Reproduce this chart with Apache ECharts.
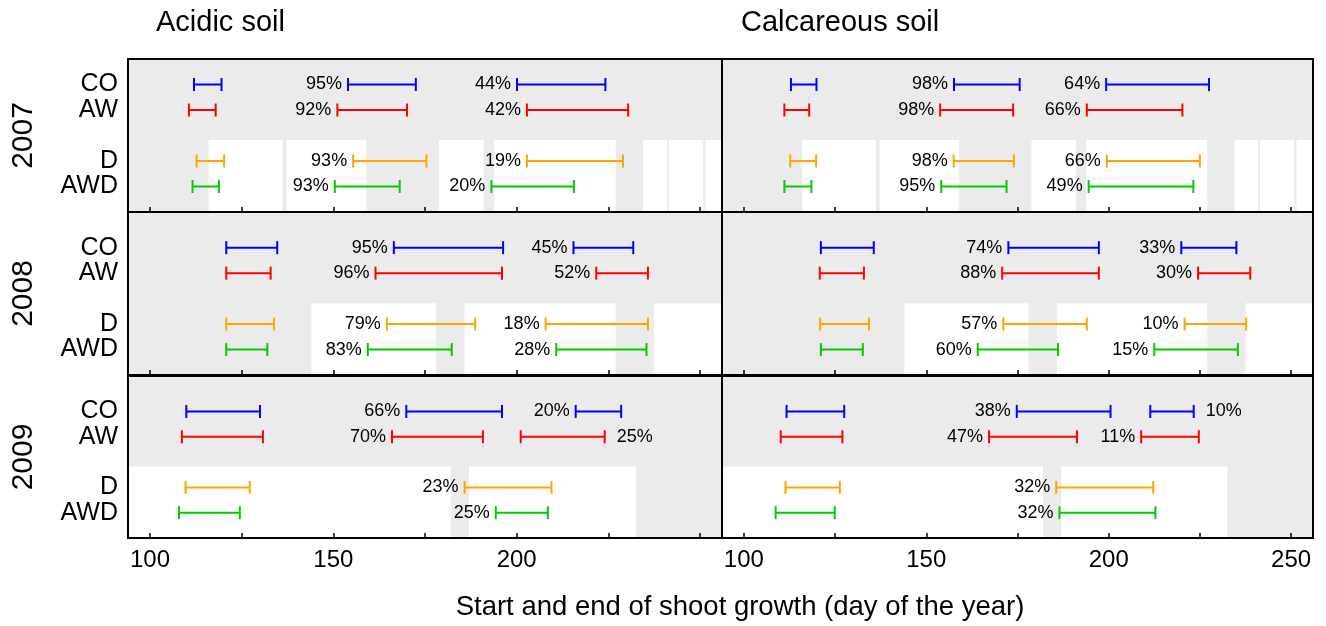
<!DOCTYPE html>
<html>
<head>
<meta charset="utf-8">
<title>Shoot growth periods</title>
<script src="https://cdn.jsdelivr.net/npm/echarts@6/dist/echarts.min.js"></script>
<style>
  html, body { margin: 0; padding: 0; background: #fff; }
  #chart { width: 1326px; height: 626px; }
</style>
</head>
<body>
<div id="chart"></div>
<script>
// rows of each panel, top to bottom
const treatments = ["CO", "AW", "D", "AWD"];
const treatmentRow = [5, 4, 2, 1];
const treatmentColor = ["#0000ff", "#ff0000", "#ffa500", "#00cc00"];
const years = ["2007", "2008", "2009"];
const soils = ["Acidic soil", "Calcareous soil"];
const dayTicks = [100, 125, 150, 175, 200, 225, 250];
const dayLabelsLeft = [100, 150, 200];
const dayLabelsRight = [100, 150, 200, 250];

// growth periods: [treatment, start day, end day, label, label side]
const acidic2007 = [
  ["CO", 112.0, 119.5, ""], ["CO", 154.0, 172.5, "95%"], ["CO", 200.1, 224.2, "44%"],
  ["AW", 110.6, 117.9, ""], ["AW", 151.1, 170.1, "92%"], ["AW", 202.8, 230.4, "42%"],
  ["D", 112.7, 120.2, ""], ["D", 155.4, 175.4, "93%"], ["D", 202.8, 229.0, "19%"],
  ["AWD", 111.6, 118.8, ""], ["AWD", 150.4, 168.1, "93%"], ["AWD", 193.1, 215.6, "20%"],
];
const calcareous2007 = [
  ["CO", 112.9, 119.9, ""], ["CO", 157.6, 175.6, "98%"], ["CO", 199.3, 227.5, "64%"],
  ["AW", 111.1, 117.9, ""], ["AW", 153.8, 173.8, "98%"], ["AW", 194.0, 220.2, "66%"],
  ["D", 112.7, 119.8, ""], ["D", 157.5, 174.0, "98%"], ["D", 199.5, 225.0, "66%"],
  ["AWD", 111.1, 118.5, ""], ["AWD", 154.1, 172.0, "95%"], ["AWD", 194.5, 223.2, "49%"],
];
const acidic2008 = [
  ["CO", 120.8, 134.7, ""], ["CO", 166.5, 196.3, "95%"], ["CO", 215.5, 231.8, "45%"],
  ["AW", 120.8, 132.9, ""], ["AW", 161.5, 196.0, "96%"], ["AW", 221.7, 235.8, "52%"],
  ["D", 120.8, 133.8, ""], ["D", 164.6, 188.7, "79%"], ["D", 207.9, 235.8, "18%"],
  ["AWD", 120.8, 132.0, ""], ["AWD", 159.4, 182.3, "83%"], ["AWD", 210.8, 235.4, "28%"],
];
const calcareous2008 = [
  ["CO", 121.1, 135.6, ""], ["CO", 172.5, 197.3, "74%"], ["CO", 219.9, 235.0, "33%"],
  ["AW", 120.8, 132.9, ""], ["AW", 170.8, 197.3, "88%"], ["AW", 224.5, 238.8, "30%"],
  ["D", 120.9, 134.3, ""], ["D", 171.1, 194.0, "57%"], ["D", 220.8, 237.7, "10%"],
  ["AWD", 121.1, 132.6, ""], ["AWD", 164.1, 186.1, "60%"], ["AWD", 212.5, 235.4, "15%"],
];
const acidic2009 = [
  ["CO", 109.9, 130.0, ""], ["CO", 169.9, 196.0, "66%"], ["CO", 216.1, 228.5, "20%"],
  ["AW", 108.7, 130.8, ""], ["AW", 166.0, 190.8, "70%"], ["AW", 201.1, 224.0, "25%", "right"],
  ["D", 109.7, 127.2, ""], ["D", 185.8, 209.5, "23%"],
  ["AWD", 107.9, 124.5, ""], ["AWD", 194.3, 208.5, "25%"],
];
const calcareous2009 = [
  ["CO", 111.7, 127.5, ""], ["CO", 174.8, 200.5, "38%"], ["CO", 211.4, 223.3, "10%", "right"],
  ["AW", 110.1, 127.0, ""], ["AW", 167.2, 191.3, "47%"], ["AW", 208.9, 224.7, "11%"],
  ["D", 111.4, 126.3, ""], ["D", 185.6, 212.2, "32%"],
  ["AWD", 108.7, 124.9, ""], ["AWD", 186.5, 212.8, "32%"],
];

// white bands behind D / AWD rows: [start day, end day]
const dry2007 = [[116.0, 136.2], [137.2, 159.0], [178.8, 191.0], [193.8, 227.0], [234.5, 241.0], [241.5, 250.8], [251.5, 256]];
const dry2008 = [[144.0, 178.0], [185.8, 227.0], [237.5, 256]];
const dry2009 = [[94, 182.0], [187.0, 232.5]];

(function () {
  const FONT = "'Liberation Sans', Arial, sans-serif";
  const chart = echarts.init(document.getElementById("chart"));

  const panelData = [
    [acidic2007, calcareous2007],
    [acidic2008, calcareous2008],
    [acidic2009, calcareous2009],
  ];
  const dryData = [dry2007, dry2008, dry2009];

  const colLeft = [128, 722];
  const colWidth = [594, 591];
  const rowTop = [59, 212, 376];
  const rowHeight = [153, 163, 162];
  const rowMax = [6, 6.4, 6.4];
  const dryTop = 2.82;

  const grids = [], xAxes = [], yAxes = [], series = [];
  const graphics = [];

  years.forEach(function (year, r) {
    // year label, rotated, centred on the row
    graphics.push({
      type: "text",
      x: 24,
      y: rowTop[r] + rowHeight[r] / 2,
      rotation: Math.PI / 2,
      style: {
        text: year,
        font: "30px " + FONT,
        fill: "#000",
        align: "center",
        verticalAlign: "middle",
        textAlign: "center",
        textVerticalAlign: "middle",
      },
    });

    soils.forEach(function (soil, c) {
      const idx = grids.length;
      const bottomRow = r === years.length - 1;
      grids.push({
        left: colLeft[c],
        top: rowTop[r],
        width: colWidth[c],
        height: rowHeight[r],
        show: true,
        backgroundColor: "#ebebeb",
        borderColor: "#000",
        borderWidth: 2,
        outerBoundsMode: "none",
      });
      xAxes.push({
        gridIndex: idx,
        type: "value",
        min: 94,
        max: 256,
        z: 10,
        axisLine: { show: false },
        splitLine: { show: false },
        axisTick: {
          show: true,
          inside: true,
          length: 5,
          customValues: dayTicks,
          lineStyle: { color: "#000", width: 1.5 },
        },
        axisLabel: {
          show: bottomRow,
          customValues: c === 0 ? dayLabelsLeft : dayLabelsRight,
          color: "#000",
          fontFamily: FONT,
          fontSize: 24,
          margin: 10,
        },
      });
      yAxes.push({
        gridIndex: idx,
        type: "value",
        min: 0,
        max: rowMax[r],
        axisLine: { show: false },
        axisTick: { show: false },
        splitLine: { show: false },
        axisLabel: {
          show: c === 0,
          customValues: treatmentRow,
          formatter: function (v) {
            return treatments[treatmentRow.indexOf(v)] || "";
          },
          color: "#000",
          fontFamily: FONT,
          fontSize: 25,
          margin: 10,
        },
      });

      // white bands
      series.push({
        type: "custom",
        xAxisIndex: idx,
        yAxisIndex: idx,
        silent: true,
        z: 1,
        data: dryData[r],
        renderItem: function (params, api) {
          const cs = params.coordSys;
          const a = api.coord([api.value(0), 0]);
          const b = api.coord([api.value(1), dryTop]);
          const x0 = Math.max(a[0], cs.x + 1);
          const x1 = Math.min(b[0], cs.x + cs.width - 1);
          const y1 = cs.y + cs.height - 1;
          return {
            type: "rect",
            shape: { x: x0, y: b[1], width: x1 - x0, height: y1 - b[1] },
            style: { fill: "#fff" },
          };
        },
      });

      // growth periods with end caps and labels
      const rows = panelData[r][c];
      series.push({
        type: "custom",
        xAxisIndex: idx,
        yAxisIndex: idx,
        silent: true,
        z: 3,
        data: rows.map(function (d) {
          return [d[1], d[2], treatmentRow[treatments.indexOf(d[0])]];
        }),
        renderItem: function (params, api) {
          const d = rows[params.dataIndex];
          const color = treatmentColor[treatments.indexOf(d[0])];
          const y = api.value(2);
          const p0 = api.coord([api.value(0), y]);
          const p1 = api.coord([api.value(1), y]);
          const h = 6.5;
          const line = { stroke: color, lineWidth: 2 };
          const children = [
            { type: "line", shape: { x1: p0[0], y1: p0[1], x2: p1[0], y2: p1[1] }, style: line },
            { type: "line", shape: { x1: p0[0], y1: p0[1] - h, x2: p0[0], y2: p0[1] + h }, style: line },
            { type: "line", shape: { x1: p1[0], y1: p1[1] - h, x2: p1[0], y2: p1[1] + h }, style: line },
          ];
          if (d[3]) {
            const right = d[4] === "right";
            children.push({
              type: "text",
              style: {
                text: d[3],
                x: right ? p1[0] + 12 : p0[0] - 6,
                y: p0[1],
                align: right ? "left" : "right",
                verticalAlign: "middle",
                textAlign: right ? "left" : "right",
                textVerticalAlign: "middle",
                font: "18px " + FONT,
                fill: "#000",
              },
            });
          }
          return { type: "group", children: children };
        },
      });
    });
  });

  graphics.push(
    {
      type: "text",
      left: 156,
      top: 8,
      style: { text: soils[0], font: "29px " + FONT, fill: "#000" },
    },
    {
      type: "text",
      left: 741,
      top: 8,
      style: { text: soils[1], font: "29px " + FONT, fill: "#000" },
    },
    {
      type: "text",
      x: 740,
      y: 607,
      style: {
        text: "Start and end of shoot growth (day of the year)",
        font: "27.5px " + FONT,
        fill: "#000",
        align: "center",
        verticalAlign: "middle",
        textAlign: "center",
        textVerticalAlign: "middle",
      },
    }
  );

  const option = {
    animation: false,
    backgroundColor: "#fff",
    grid: grids,
    xAxis: xAxes,
    yAxis: yAxes,
    series: series,
    graphic: graphics,
  };
  chart.setOption(option);

  window.addEventListener("resize", function () {
    chart.resize();
  });
})();
</script>
</body>
</html>
